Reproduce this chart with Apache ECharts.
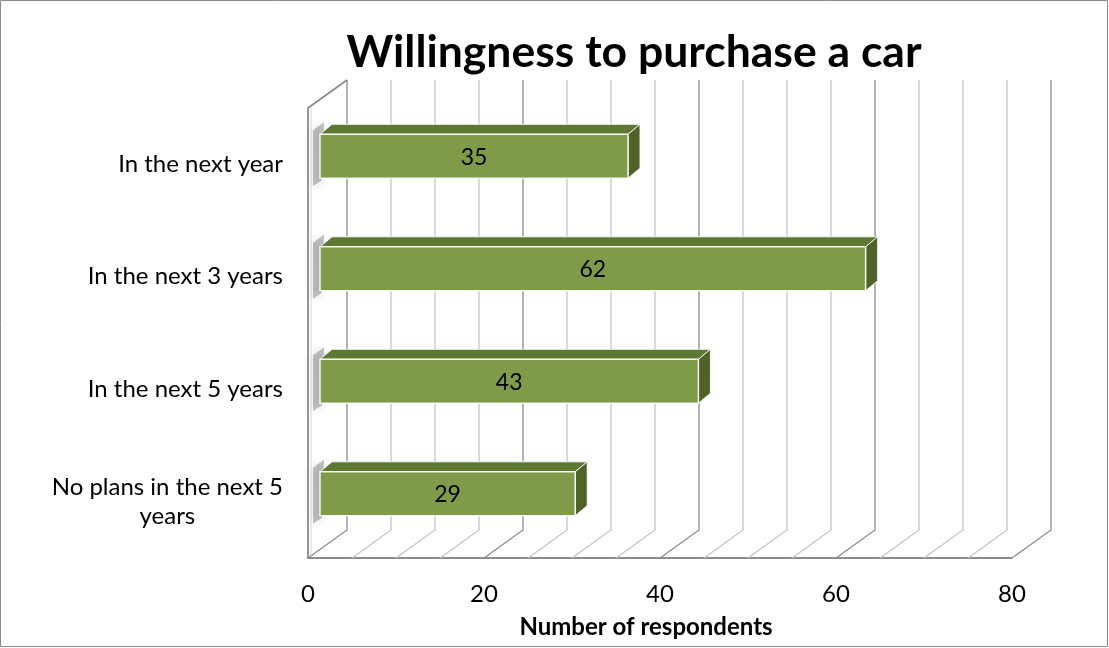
<!DOCTYPE html>
<html>
<head>
<meta charset="utf-8">
<script src="https://cdn.jsdelivr.net/npm/echarts@6/dist/echarts.min.js"></script>
<style>
html,body{margin:0;padding:0;background:#fff;}
#chart{width:1109px;height:648px;}
</style>
</head>
<body>
<div id="chart"></div>
<script>
// ---- data ----
const categories = ['In the next year', 'In the next 3 years', 'In the next 5 years', 'No plans in the next 5 years'];
const respondents = [35, 62, 43, 29];
const xTicks = [0, 20, 40, 60, 80];
const gridValues = [0,5,10,15,20,25,30,35,40,45,50,55,60,65,70,75,80];
const titleText = 'Willingness to purchase a car';
const xAxisName = 'Number of respondents';

// ---- style constants ----
const FONT = 'Lato, "Open Sans", sans-serif';
const DEPTH = [39, -28];      // full chart depth offset
const FACE = [12, -8];        // bar front face offset
const BAR_DEPTH = [12, -10];  // bar thickness offset
const BAR_RATIO = 0.39;

const chart = echarts.init(document.getElementById('chart'), null, {renderer: 'canvas'});

function frameItem(params, api) {
  const v = api.value(0);
  const cs = params.coordSys;
  const x = api.coord([v, 0])[0];
  const bottom = cs.y + cs.height;
  const top = cs.y;
  const major = v % 20 === 0;
  const col = major ? '#8c8c8c' : '#c4c4c4';
  const children = [
    {type: 'polyline', shape: {points: [[x, bottom], [x + DEPTH[0], bottom + DEPTH[1]], [x + DEPTH[0], top + DEPTH[1]]]},
     style: {stroke: col, lineWidth: 1.3, fill: null}}
  ];
  if (v === gridValues[0]) {
    children.push({type: 'polyline', shape: {points: [[x + DEPTH[0], top + DEPTH[1]], [x, top], [x, bottom], [api.coord([gridValues[gridValues.length-1], 0])[0], bottom]]},
      style: {stroke: '#8c8c8c', lineWidth: 1.8, fill: null}});
    children.push({type: 'line', shape: {x1: x + 3, y1: top - 1, x2: x + 3, y2: bottom - 3},
      style: {stroke: '#d8d8d8', lineWidth: 1}});
  }
  return {type: 'group', children};
}

function barItem(params, api) {
  const v = api.value(0);
  const idx = api.value(1);
  const p0 = api.coord([0, idx]);
  const p1 = api.coord([v, idx]);
  const band = api.size([0, 1])[1];
  const h = band * BAR_RATIO;
  const x0 = p0[0] + FACE[0];
  const x1 = p1[0] + FACE[0];
  const yc = p0[1] + FACE[1];
  const yt = yc - h / 2, yb = yc + h / 2;
  const dx = BAR_DEPTH[0], dy = BAR_DEPTH[1];
  return {
    type: 'group',
    children: [
      {type: 'polygon', shape: {points: [[x0 + 4, yt + dy - 2], [x0 - 7, yt + dy + 6], [x0 - 7, yb + 8], [x0 + 2, yb + 2]]},
       style: {fill: 'rgba(0,0,0,0.22)', shadowBlur: 8, shadowColor: 'rgba(0,0,0,0.6)'}, z2: 0},
      {type: 'polygon', shape: {points: [[x0, yt], [x0 + dx, yt + dy], [x1 + dx, yt + dy], [x1, yt]]},
       style: {fill: '#5f7833', stroke: 'rgba(255,255,255,0.85)', lineWidth: 1}, z2: 1},
      {type: 'polygon', shape: {points: [[x1, yt], [x1 + dx, yt + dy], [x1 + dx, yb + dy], [x1, yb]]},
       style: {fill: '#4f6328', stroke: 'rgba(255,255,255,0.85)', lineWidth: 1}, z2: 1},
      {type: 'rect', shape: {x: x0, y: yt, width: x1 - x0, height: h},
       style: {fill: '#7f9a48', stroke: 'rgba(255,255,255,0.9)', lineWidth: 1.5}, z2: 2},
      {type: 'text', x: (x0 + x1) / 2, y: yc + 1,
       style: {text: String(v), fill: '#000', font: '23px ' + FONT, align: 'center', verticalAlign: 'middle'}, z2: 3}
    ]
  };
}

const option = {
  backgroundColor: '#fff',
  animation: false,
  title: {
    text: titleText, left: 629, top: 25, textAlign: 'center',
    textStyle: {fontFamily: FONT, fontSize: 44.5, fontWeight: 'bold', color: '#000'}
  },
  grid: {left: 308, right: 97, top: 108, bottom: 90, containLabel: false},
  xAxis: {
    type: 'value', min: 0, max: 80, interval: 20,
    name: xAxisName, nameLocation: 'middle', nameGap: 57,
    nameTextStyle: {fontFamily: FONT, fontSize: 24, fontWeight: 'bold', color: '#000', padding: [0, 28, 0, 0]},
    axisLine: {show: false}, axisTick: {show: false}, splitLine: {show: false},
    axisLabel: {fontFamily: FONT, fontSize: 24, color: '#000', margin: 24}
  },
  yAxis: {
    type: 'category', data: categories, inverse: true,
    axisLine: {show: false}, axisTick: {show: false}, splitLine: {show: false},
    axisLabel: {
      margin: 25, fontFamily: FONT, fontSize: 24, color: '#000',
      formatter: function (val) {
        if (val.length > 20) {
          const i = val.lastIndexOf(' ');
          return '{c|' + val.slice(0, i) + '}\n{c|' + val.slice(i + 1) + '}';
        }
        return '{c|' + val + '}';
      },
      rich: {c: {fontFamily: FONT, fontSize: 24, color: '#000', align: 'center', lineHeight: 29}}
    }
  },
  graphic: [
    {type: 'rect', shape: {x: 0.5, y: 0.5, width: 1107, height: 646}, style: {fill: null, stroke: '#8a8a8a', lineWidth: 1}, z: -10}
  ],
  series: [
    {type: 'custom', coordinateSystem: 'cartesian2d', renderItem: frameItem,
     data: gridValues.map(v => [v, 0]), z: 1, silent: true, clip: false},
    {type: 'custom', coordinateSystem: 'cartesian2d', renderItem: barItem,
     data: respondents.map((v, i) => [v, i]), z: 5, clip: false}
  ]
};
chart.setOption(option);
</script>
</body>
</html>
